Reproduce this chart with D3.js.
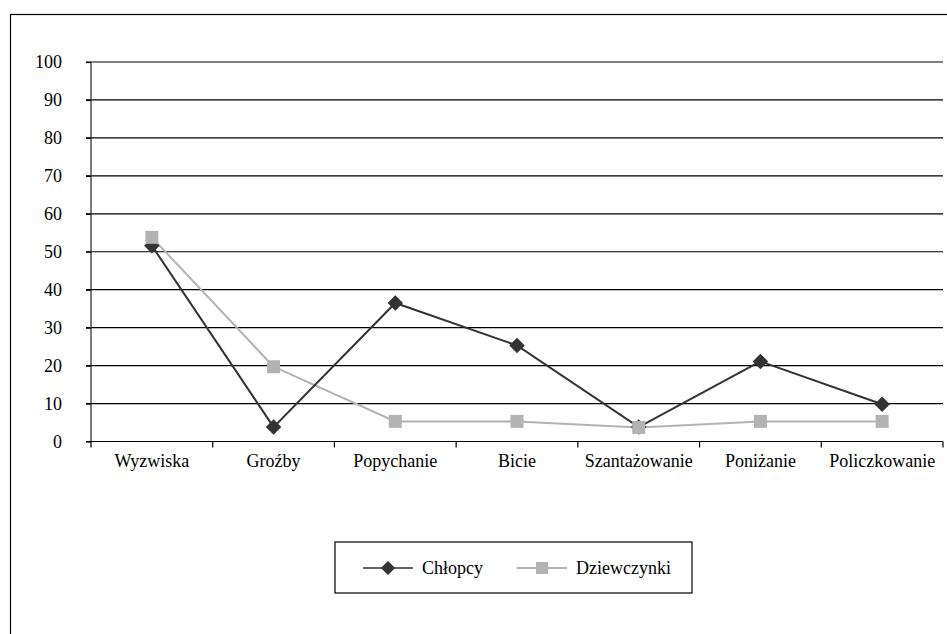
<!DOCTYPE html>
<html>
<head>
<meta charset="utf-8">
<script src="https://cdn.jsdelivr.net/npm/d3@7"></script>
<style>
  body { margin: 0; background: #fff; }
</style>
</head>
<body>
<div id="main"></div>
<script>
var categories = ["Wyzwiska", "Groźby", "Popychanie", "Bicie", "Szantażowanie", "Poniżanie", "Policzkowanie"];
var chlopcy = [51.6, 3.8, 36.5, 25.3, 3.8, 21.1, 9.8];
var dziewczynki = [53.8, 19.7, 5.3, 5.3, 3.7, 5.3, 5.3];
var yTicks = [0, 10, 20, 30, 40, 50, 60, 70, 80, 90, 100];
var seriesNames = ["Chłopcy", "Dziewczynki"];

var W = 947, H = 634;
var FONT = "Liberation Serif";

var svg = d3.select("#main").append("svg")
    .attr("width", W)
    .attr("height", H);

// outer chart border (runs off the right and bottom edge)
svg.append("rect")
    .attr("x", 10.5).attr("y", 14.5)
    .attr("width", 950).attr("height", 640)
    .attr("fill", "none")
    .attr("stroke", "#000")
    .attr("stroke-width", 1.2);

var x = d3.scaleBand()
    .domain(categories)
    .range([91, 943]);

var y = d3.scaleLinear()
    .domain([0, 100])
    .range([441.5, 62]);

var g = svg.append("g");

// gridlines
g.selectAll(".grid")
  .data(yTicks.filter(function(d) { return d > 0; }))
  .enter().append("line")
    .attr("x1", 86).attr("x2", 943)
    .attr("y1", function(d) { return y(d); })
    .attr("y2", function(d) { return y(d); })
    .attr("stroke", "#000")
    .attr("stroke-width", 1.2);

// y axis
var yAxis = g.append("g")
    .attr("transform", "translate(91,0)")
    .call(d3.axisLeft(y).tickValues(yTicks).tickSize(5).tickPadding(24));
yAxis.select(".domain").attr("stroke", "#333").attr("stroke-width", 1.3).attr("d", "M0," + y(100) + "V" + y(0));
yAxis.selectAll(".tick line").attr("stroke", "#000").attr("stroke-width", 1.2);
yAxis.selectAll("text").style("font-size", "18px").style("font-family", FONT).attr("fill", "#000");

// x axis
var xAxis = g.append("g")
    .attr("transform", "translate(0," + y(0) + ")")
    .call(d3.axisBottom(x).tickSize(0).tickPadding(13));
xAxis.select(".domain").attr("stroke", "#000").attr("stroke-width", 1.2).attr("d", "M86,0H943");
xAxis.selectAll("text").style("font-size", "18px").style("font-family", FONT).attr("fill", "#000");

// category boundary ticks
var bounds = categories.map(function(c) { return x(c); }).concat([x(categories[categories.length - 1]) + x.bandwidth()]);
g.selectAll(".btick")
  .data(bounds)
  .enter().append("line")
    .attr("x1", function(d) { return d; }).attr("x2", function(d) { return d; })
    .attr("y1", y(0)).attr("y2", y(0) + 6)
    .attr("stroke", "#000")
    .attr("stroke-width", 1.2);

var cx = function(d, i) { return x(categories[i]) + x.bandwidth() / 2; };

var line = d3.line()
    .x(function(d, i) { return cx(d, i); })
    .y(function(d) { return y(d); });

// Dziewczynki
g.append("path")
    .datum(dziewczynki)
    .attr("d", line)
    .attr("fill", "none")
    .attr("stroke", "#b3b3b3")
    .attr("stroke-width", 2);

// Chłopcy
g.append("path")
    .datum(chlopcy)
    .attr("d", line)
    .attr("fill", "none")
    .attr("stroke", "#333")
    .attr("stroke-width", 2);

var diamond = d3.symbol().type(d3.symbolSquare).size(120);

g.selectAll(".dm")
  .data(chlopcy)
  .enter().append("path")
    .attr("d", diamond)
    .attr("transform", function(d, i) { return "translate(" + cx(d, i) + "," + y(d) + ") rotate(45)"; })
    .attr("fill", "#333");

g.selectAll(".sq")
  .data(dziewczynki)
  .enter().append("rect")
    .attr("x", function(d, i) { return cx(d, i) - 6.5; })
    .attr("y", function(d) { return y(d) - 6.5; })
    .attr("width", 13).attr("height", 13)
    .attr("fill", "#b3b3b3");

// legend
var lg = svg.append("g");
lg.append("rect")
    .attr("x", 335).attr("y", 542)
    .attr("width", 357).attr("height", 51)
    .attr("fill", "none")
    .attr("stroke", "#000")
    .attr("stroke-width", 1.2);

var ly = 568;
var items = [
  {name: seriesNames[0], x0: 363, color: "#333", shape: "diamond"},
  {name: seriesNames[1], x0: 517, color: "#b3b3b3", shape: "square"}
];
items.forEach(function(it) {
  lg.append("line")
      .attr("x1", it.x0).attr("x2", it.x0 + 50)
      .attr("y1", ly).attr("y2", ly)
      .attr("stroke", it.color)
      .attr("stroke-width", it.shape == "diamond" ? 1.3 : 2);
  if (it.shape == "diamond") {
    lg.append("path")
        .attr("d", d3.symbol().type(d3.symbolSquare).size(100))
        .attr("transform", "translate(" + (it.x0 + 25) + "," + ly + ") rotate(45)")
        .attr("fill", it.color);
  } else {
    lg.append("rect")
        .attr("x", it.x0 + 25 - 6).attr("y", ly - 6)
        .attr("width", 12).attr("height", 12)
        .attr("fill", it.color);
  }
  lg.append("text")
      .attr("x", it.x0 + 59)
      .attr("y", ly + 6)
      .style("font-family", FONT)
      .style("font-size", "18px")
      .attr("fill", "#000")
      .text(it.name);
});
</script>
</body>
</html>
